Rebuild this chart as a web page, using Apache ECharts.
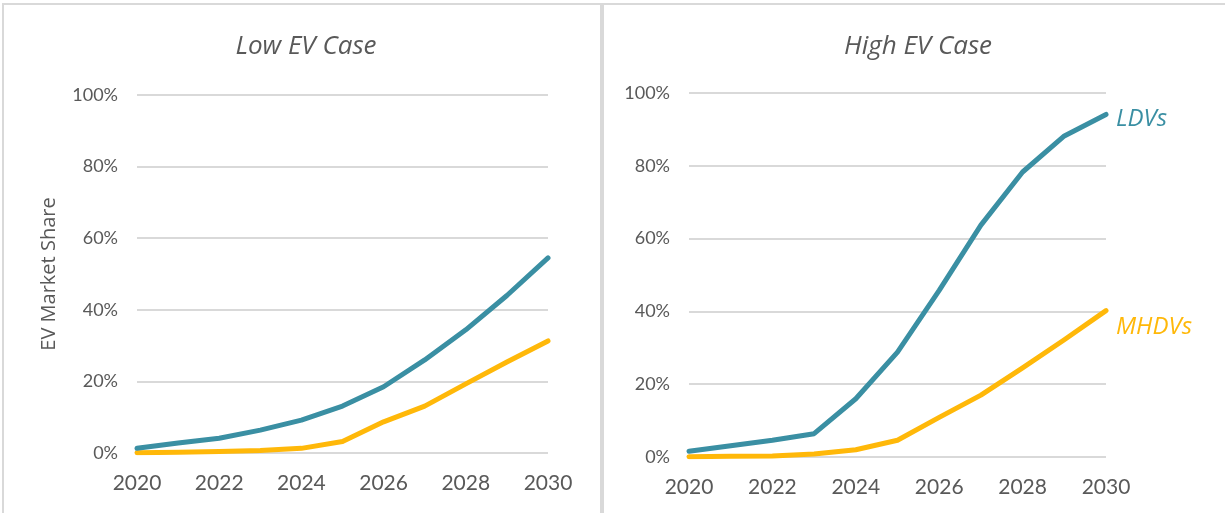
<!DOCTYPE html>
<html>
<head>
<meta charset="utf-8">
<script src="https://cdn.jsdelivr.net/npm/echarts@6/dist/echarts.min.js"></script>
<style>
  html, body { margin: 0; padding: 0; background: #fff; }
  #chart { width: 1225px; height: 513px; }
</style>
</head>
<body>
<div id="chart"></div>
<script>
// Model years on the horizontal axis
const years = ['2020','2021','2022','2023','2024','2025','2026','2027','2028','2029','2030'];

// EV market share (%) - low EV case
const lowLDV   = [1.3, 2.8, 4.1, 6.4, 9.2, 13.1, 18.5, 26.0, 34.4, 44.0, 54.5];
const lowMHDV  = [0.1, 0.2, 0.4, 0.7, 1.3, 3.2, 8.7, 13.1, 19.3, 25.4, 31.3];

// EV market share (%) - high EV case
const highLDV  = [1.6, 3.1, 4.6, 6.4, 16.0, 28.8, 45.8, 63.7, 78.3, 88.2, 94.1];
const highMHDV = [0.1, 0.2, 0.3, 0.8, 2.0, 4.6, 10.9, 17.0, 24.5, 32.2, 40.2];

const panelTitles = ['Low EV Case', 'High EV Case'];
const seriesNames = ['LDVs', 'MHDVs'];

const TEXT = '#595959';
const GRIDLINE = '#d9d9d9';
const LDV_COLOR = '#3a8fa3';
const MHDV_COLOR = '#ffb809';
const FONT = 'Lato, "Open Sans", sans-serif';
const WIDE_FONT = '"Open Sans", Lato, sans-serif';

function xAxis(gridIndex) {
  return {
    type: 'category',
    gridIndex: gridIndex,
    data: years,
    boundaryGap: false,
    axisLine: { show: false },
    axisTick: { show: false },
    axisLabel: {
      interval: 1,
      color: TEXT,
      fontFamily: FONT,
      fontSize: 21,
      margin: 20
    }
  };
}

function yAxis(gridIndex, withName) {
  return {
    type: 'value',
    gridIndex: gridIndex,
    min: 0,
    max: 100,
    interval: 20,
    name: withName ? 'EV Market Share' : '',
    nameLocation: 'middle',
    nameGap: 78,
    nameTextStyle: { color: TEXT, fontFamily: WIDE_FONT, fontSize: 20 },
    axisLine: { show: false },
    axisTick: { show: false },
    splitLine: { lineStyle: { color: GRIDLINE, width: 2 } },
    axisLabel: {
      color: TEXT,
      fontFamily: FONT,
      fontSize: 18,
      margin: 19,
      formatter: '{value}%'
    }
  };
}

function line(name, data, color, idx, labelOffset) {
  return {
    name: name,
    type: 'line',
    xAxisIndex: idx,
    yAxisIndex: idx,
    data: data,
    symbol: 'none',
    smooth: false,
    lineStyle: { color: color, width: 5, cap: 'round', join: 'round' },
    itemStyle: { color: color },
    endLabel: labelOffset ? {
      show: true,
      formatter: name,
      color: color,
      fontFamily: WIDE_FONT,
      fontStyle: 'italic',
      fontSize: 24,
      distance: 10,
      offset: labelOffset
    } : { show: false },
    z: name === 'LDVs' ? 3 : 2
  };
}

const chart = echarts.init(document.getElementById('chart'), null, { renderer: 'canvas' });

chart.setOption({
  animation: false,
  backgroundColor: '#ffffff',
  graphic: [
    { type: 'rect', shape: { x: 3, y: 4, width: 598, height: 540 },
      style: { fill: 'none', stroke: GRIDLINE, lineWidth: 2 }, silent: true, z: -1 },
    { type: 'rect', shape: { x: 603, y: 4, width: 640, height: 540 },
      style: { fill: 'none', stroke: GRIDLINE, lineWidth: 2 }, silent: true, z: -1 }
  ],
  title: [
    { text: panelTitles[0], left: 301, top: 29, textAlign: 'center',
      textStyle: { color: TEXT, fontFamily: WIDE_FONT, fontStyle: 'italic', fontWeight: 'normal', fontSize: 26 } },
    { text: panelTitles[1], left: 913, top: 29, textAlign: 'center',
      textStyle: { color: TEXT, fontFamily: WIDE_FONT, fontStyle: 'italic', fontWeight: 'normal', fontSize: 26 } }
  ],
  grid: [
    { left: 137, top: 95, width: 411, height: 358 },
    { left: 689, top: 93, width: 417, height: 364 }
  ],
  xAxis: [xAxis(0), xAxis(1)],
  yAxis: [yAxis(0, true), yAxis(1, false)],
  series: [
    line(seriesNames[0], lowLDV, LDV_COLOR, 0, null),
    line(seriesNames[1], lowMHDV, MHDV_COLOR, 0, null),
    line(seriesNames[0], highLDV, LDV_COLOR, 1, [0, 5]),
    line(seriesNames[1], highMHDV, MHDV_COLOR, 1, [0, 16])
  ]
});
</script>
</body>
</html>
